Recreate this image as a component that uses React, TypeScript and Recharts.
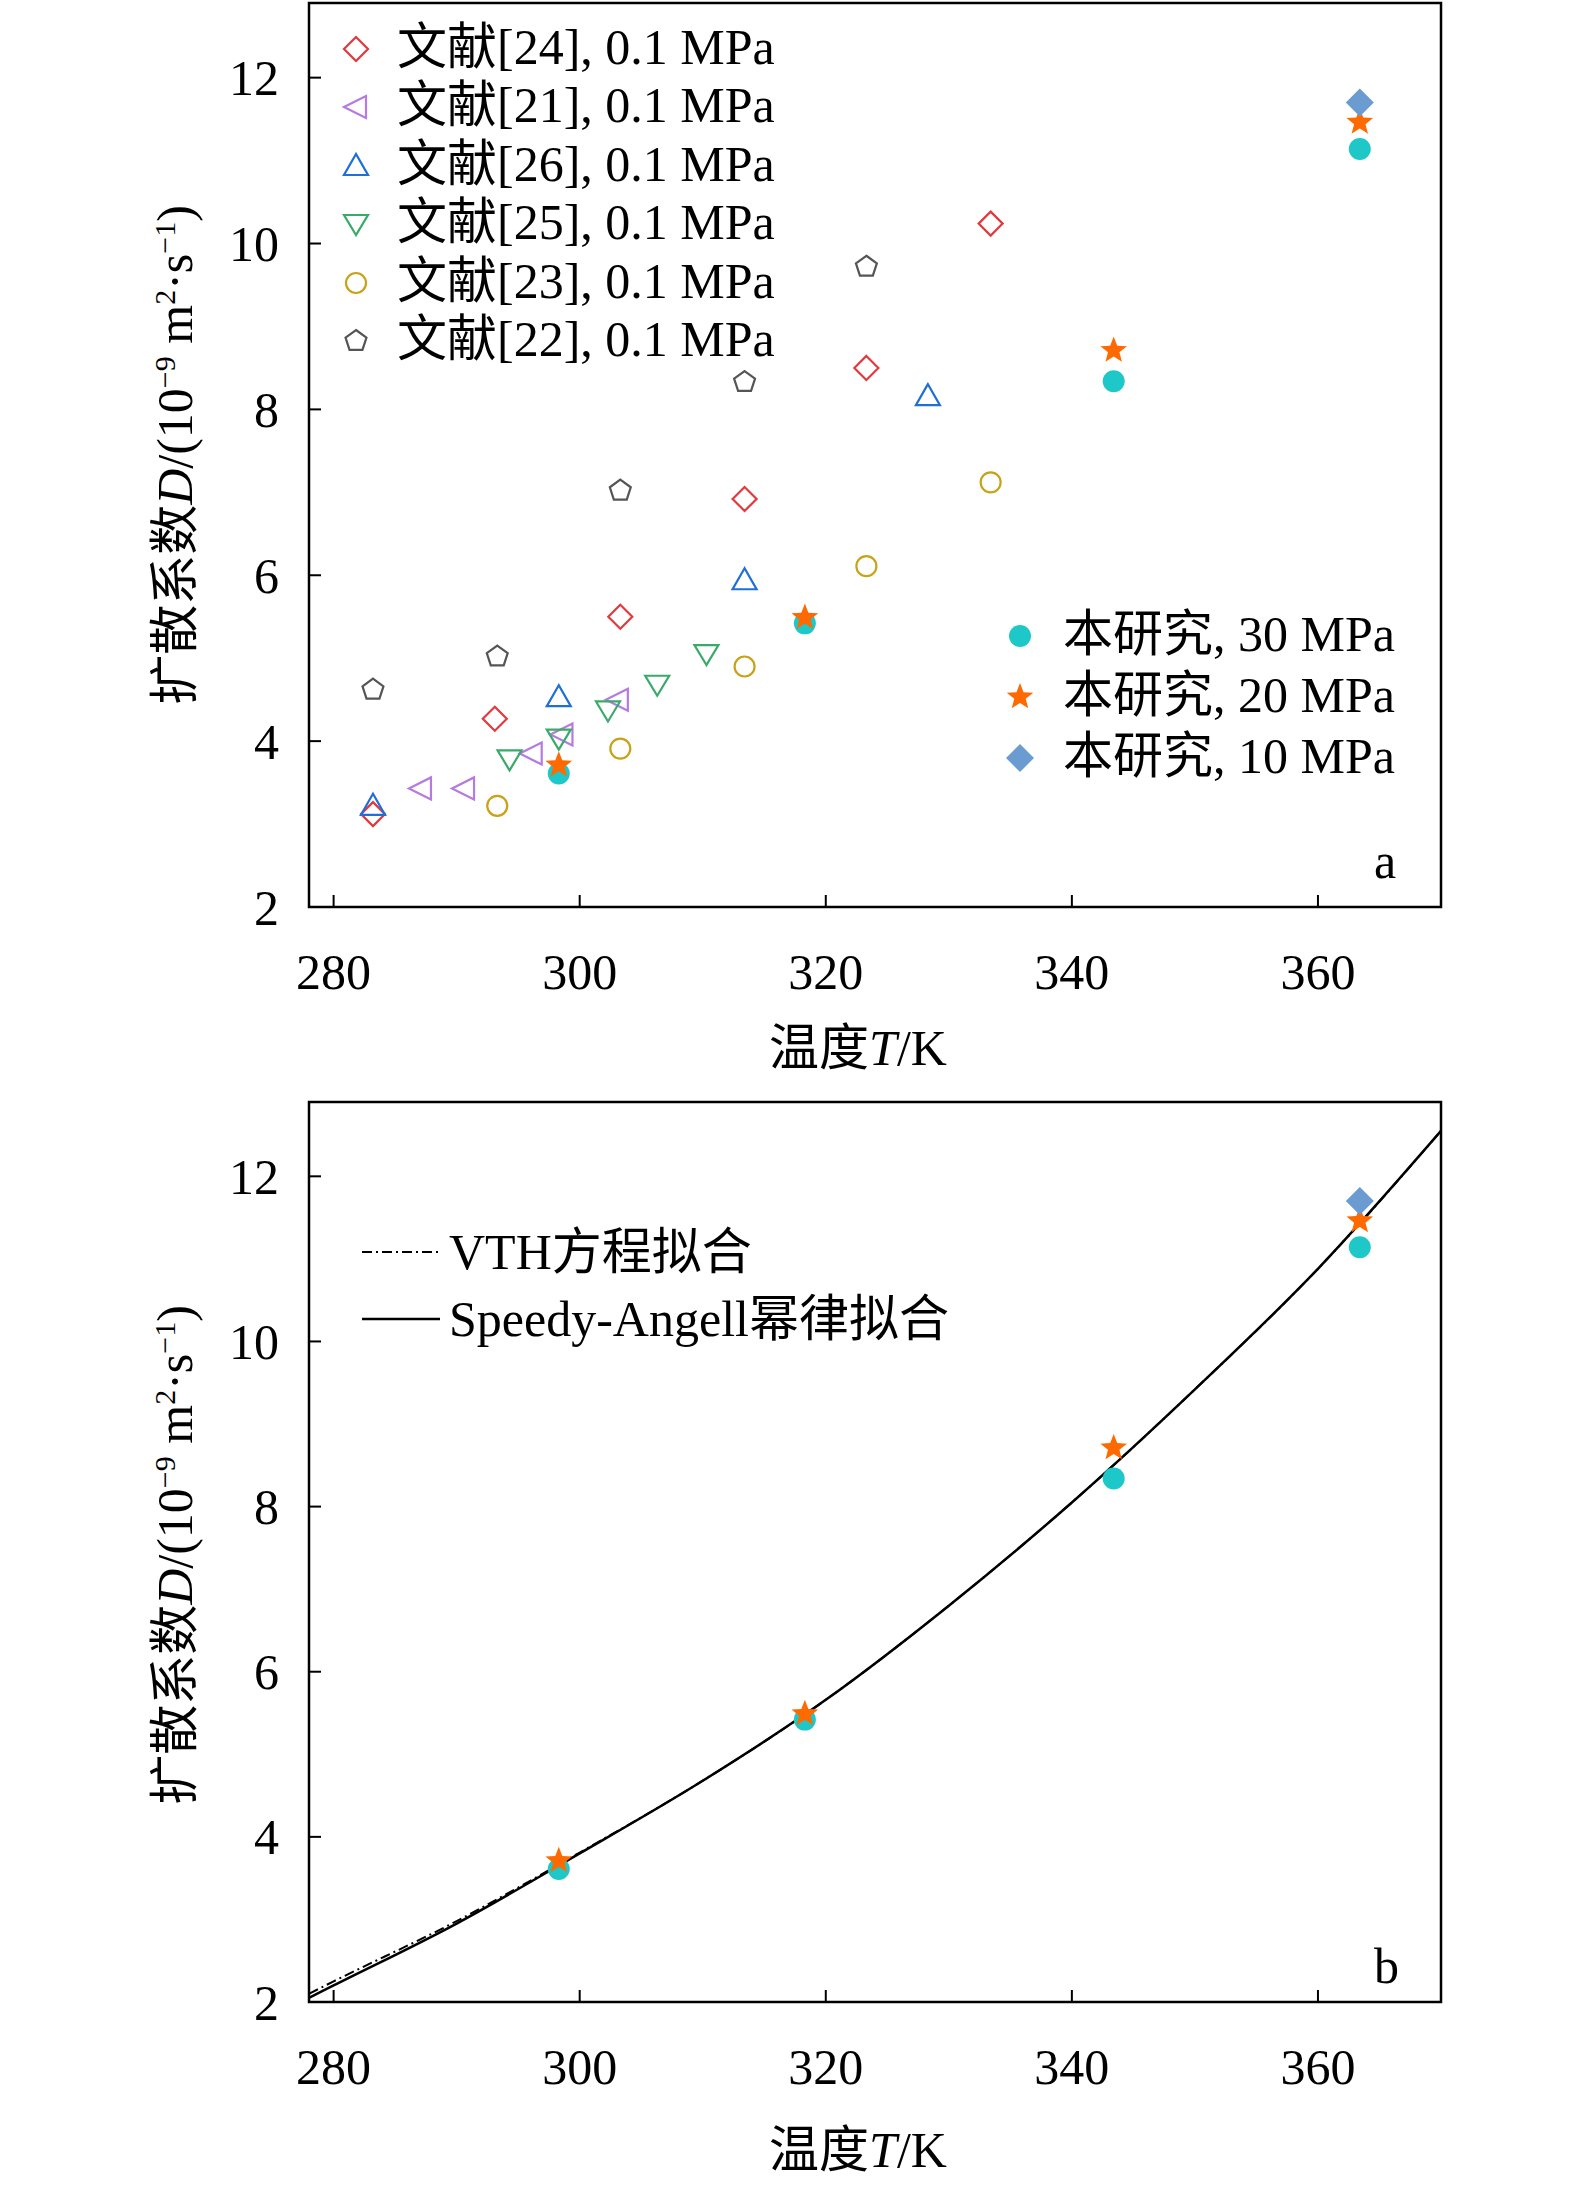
import React from 'react'
import { ComposedChart, Scatter, Line, XAxis, YAxis, ReferenceArea } from 'recharts'

const ref24 = [{ x: 283.2, y: 3.12 }, { x: 293.1, y: 4.27 }, { x: 303.3, y: 5.5 }, { x: 313.4, y: 6.92 }, { x: 323.3, y: 8.5 }, { x: 333.4, y: 10.24 }]
const ref21 = [{ x: 287.1, y: 3.43 }, { x: 290.6, y: 3.43 }, { x: 296.1, y: 3.85 }, { x: 298.6, y: 4.08 }, { x: 303.1, y: 4.5 }]
const ref26 = [{ x: 283.2, y: 3.22 }, { x: 298.3, y: 4.53 }, { x: 313.4, y: 5.94 }, { x: 328.3, y: 8.16 }]
const ref25 = [{ x: 294.3, y: 3.78 }, { x: 298.3, y: 4.03 }, { x: 302.3, y: 4.37 }, { x: 306.3, y: 4.68 }, { x: 310.3, y: 5.05 }]
const ref23 = [{ x: 293.3, y: 3.22 }, { x: 303.3, y: 3.91 }, { x: 313.4, y: 4.9 }, { x: 323.3, y: 6.11 }, { x: 333.4, y: 7.12 }]
const ref22 = [{ x: 283.2, y: 4.62 }, { x: 293.3, y: 5.02 }, { x: 303.3, y: 7.02 }, { x: 313.4, y: 8.33 }, { x: 323.3, y: 9.72 }]
const mpa30 = [{ x: 298.3, y: 3.61 }, { x: 318.3, y: 5.42 }, { x: 343.4, y: 8.34 }, { x: 363.4, y: 11.14 }]
const mpa20 = [{ x: 298.3, y: 3.71 }, { x: 318.3, y: 5.49 }, { x: 343.4, y: 8.71 }, { x: 363.4, y: 11.46 }]
const mpa10 = [{ x: 363.4, y: 11.7 }]
const fitSA = [
  { x: 278, y: 2.05 }, { x: 280, y: 2.2 }, { x: 290, y: 2.95 }, { x: 300, y: 3.8 }, { x: 310, y: 4.68 },
  { x: 320, y: 5.66 }, { x: 330, y: 6.8 }, { x: 340, y: 8.05 }, { x: 350, y: 9.42 }, { x: 360, y: 10.88 }, { x: 370, y: 12.55 },
]
const fitVTH = [
  { x: 278, y: 2.1 }, { x: 280, y: 2.25 }, { x: 290, y: 2.98 }, { x: 300, y: 3.81 }, { x: 310, y: 4.68 },
  { x: 320, y: 5.66 }, { x: 330, y: 6.8 }, { x: 340, y: 8.05 }, { x: 350, y: 9.42 }, { x: 360, y: 10.88 }, { x: 370, y: 12.55 },
]
const xTicks = [280, 300, 320, 340, 360]
const yTicks = [2, 4, 6, 8, 10, 12]

const FONT = '"Liberation Serif", "Noto Sans CJK SC", serif'

type Kind = 'diamond' | 'left' | 'up' | 'down' | 'circle' | 'pent' | 'dot' | 'star' | 'fdiamond'

const Marker = ({ kind, cx, cy, color }: { kind: Kind; cx: number; cy: number; color: string }) => {
  const o = { fill: 'none', stroke: color, strokeWidth: 2.2 }
  const pts = (a: number[][]) => a.map(p => `${cx + p[0]},${cy + p[1]}`).join(' ')
  switch (kind) {
    case 'diamond': return <polygon points={pts([[0, -12], [12, 0], [0, 12], [-12, 0]])} {...o} />
    case 'left': return <polygon points={pts([[-12, 0], [10, -11], [10, 11]])} {...o} />
    case 'up': return <polygon points={pts([[0, -12], [-12, 9], [12, 9]])} {...o} />
    case 'down': return <polygon points={pts([[0, 11], [-12, -9], [12, -9]])} {...o} />
    case 'circle': return <circle cx={cx} cy={cy} r={10} {...o} />
    case 'pent': {
      const a = [0, 1, 2, 3, 4].map(i => {
        const t = -Math.PI / 2 + (i * 2 * Math.PI) / 5
        return [11 * Math.cos(t), 11 * Math.sin(t)]
      })
      return <polygon points={pts(a)} {...o} />
    }
    case 'dot': return <circle cx={cx} cy={cy} r={11} fill={color} />
    case 'star': {
      const a = Array.from({ length: 10 }, (_, i) => {
        const r = i % 2 ? 6 : 14
        const t = -Math.PI / 2 + (i * Math.PI) / 5
        return [r * Math.cos(t), r * Math.sin(t)]
      })
      return <polygon points={pts(a)} fill={color} />
    }
    case 'fdiamond': return <polygon points={pts([[0, -14], [14, 0], [0, 14], [-14, 0]])} fill={color} />
  }
  return null
}

const series: { name: string; data: { x: number; y: number }[]; kind: Kind; color: string }[] = [
  { name: '文献[24], 0.1 MPa', data: ref24, kind: 'diamond', color: '#e0393e' },
  { name: '文献[21], 0.1 MPa', data: ref21, kind: 'left', color: '#b57be0' },
  { name: '文献[26], 0.1 MPa', data: ref26, kind: 'up', color: '#1f6fd6' },
  { name: '文献[25], 0.1 MPa', data: ref25, kind: 'down', color: '#3aaa6a' },
  { name: '文献[23], 0.1 MPa', data: ref23, kind: 'circle', color: '#c9a21a' },
  { name: '文献[22], 0.1 MPa', data: ref22, kind: 'pent', color: '#555555' },
]
const ours: typeof series = [
  { name: '本研究, 30 MPa', data: mpa30, kind: 'dot', color: '#1ec8c8' },
  { name: '本研究, 20 MPa', data: mpa20, kind: 'star', color: '#ff6a00' },
  { name: '本研究, 10 MPa', data: mpa10, kind: 'fdiamond', color: '#6a9bd1' },
]

const XTick = (p: any) => (
  <g>
    <line x1={p.x} y1={p.y} x2={p.x} y2={p.y - 12} stroke="#000" strokeWidth={2} />
    <text x={p.x} y={p.y + 82} textAnchor="middle" fontSize={50} fontFamily={FONT} fill="#000">{p.payload.value}</text>
  </g>
)
const YTick = (p: any) => (
  <g>
    <line x1={p.x} y1={p.y} x2={p.x + 12} y2={p.y} stroke="#000" strokeWidth={2} />
    <text x={p.x - 30} y={p.y} dy="0.35em" textAnchor="end" fontSize={50} fontFamily={FONT} fill="#000">{p.payload.value}</text>
  </g>
)

const Panel = ({ b }: { b: boolean }) => (
  <ComposedChart width={1575} height={1100} margin={{ top: b ? 7 : 3, left: 229, right: 134, bottom: 133 }}>
    <XAxis type="number" dataKey="x" domain={[278, 370]} ticks={xTicks} tick={<XTick />} tickLine={false} tickSize={0} tickMargin={0}
      axisLine={{ stroke: '#000', strokeWidth: 2 }} height={60} allowDataOverflow />
    <YAxis type="number" dataKey="y" domain={[2, 12.9]} ticks={yTicks} tick={<YTick />} tickLine={false} tickSize={0} tickMargin={0}
      axisLine={{ stroke: '#000', strokeWidth: 2 }} width={80} allowDataOverflow />
    <ReferenceArea x1={278} x2={370} y1={2} y2={12.9} fill="none" stroke="#000" strokeWidth={2.5} ifOverflow="visible" />
    {!b && series.map(s => (
      <Scatter key={s.name} data={s.data} isAnimationActive={false}
        shape={(p: any) => <Marker kind={s.kind} cx={p.cx} cy={p.cy} color={s.color} />} />
    ))}
    {b && <Line data={fitVTH} dataKey="y" type="monotone" dot={false} stroke="#000" strokeWidth={2} strokeDasharray="10 4 2 4" isAnimationActive={false} />}
    {b && <Line data={fitSA} dataKey="y" type="monotone" dot={false} stroke="#000" strokeWidth={2.5} isAnimationActive={false} />}
    {ours.map(s => (
      <Scatter key={s.name} data={s.data} isAnimationActive={false}
        shape={(p: any) => <Marker kind={s.kind} cx={p.cx} cy={p.cy} color={s.color} />} />
    ))}
  </ComposedChart>
)

const txt: React.CSSProperties = { position: 'absolute', fontFamily: FONT, fontSize: 50, color: '#000', whiteSpace: 'nowrap', lineHeight: 1 }

const LegendRow = ({ s, mx, tx, y }: { s: (typeof series)[0]; mx: number; tx: number; y: number }) => (
  <>
    <svg style={{ position: 'absolute', left: mx - 20, top: y - 20 }} width={40} height={40}>
      <Marker kind={s.kind} cx={20} cy={20} color={s.color} />
    </svg>
    <div style={{ ...txt, left: tx, top: y - 27 }}>{s.name}</div>
  </>
)

const YLabel = ({ top }: { top: number }) => (
  <div style={{ ...txt, left: 175, top, transform: 'translate(-50%, -50%) rotate(-90deg)' }}>
    扩散系数<i>D</i>/(10<sup style={{ fontSize: 30 }}>−9</sup> m<sup style={{ fontSize: 30 }}>2</sup>·s<sup style={{ fontSize: 30 }}>−1</sup>)
  </div>
)
const XLabel = ({ top }: { top: number }) => (
  <div style={{ ...txt, left: 858, top, transform: 'translate(-50%, -50%)' }}>温度<i>T</i>/K</div>
)

export default function App() {
  return (
    <div style={{ position: 'absolute', left: 0, top: 0, width: 1575, height: 2195, background: '#fff' }}>
      <div style={{ position: 'absolute', left: 0, top: 0 }}><Panel b={false} /></div>
      <div style={{ position: 'absolute', left: 0, top: 1095 }}><Panel b={true} /></div>
      {series.map((s, i) => <LegendRow key={s.name} s={s} mx={356} tx={397} y={49 + i * 58.4} />)}
      {ours.map((s, i) => <LegendRow key={s.name} s={s} mx={1020} tx={1063} y={636 + i * 61} />)}
      <svg style={{ position: 'absolute', left: 360, top: 1230 }} width={82} height={110}>
        <line x1={2} y1={22} x2={80} y2={22} stroke="#000" strokeWidth={2} strokeDasharray="10 4 2 4" />
        <line x1={2} y1={89} x2={80} y2={89} stroke="#000" strokeWidth={2.5} />
      </svg>
      <div style={{ ...txt, left: 449, top: 1227 }}>VTH方程拟合</div>
      <div style={{ ...txt, left: 449, top: 1294 }}>Speedy-Angell幂律拟合</div>
      <div style={{ ...txt, left: 1374, top: 836 }}>a</div>
      <div style={{ ...txt, left: 1374, top: 1941 }}>b</div>
      <YLabel top={455} />
      <YLabel top={1555} />
      <XLabel top={1048} />
      <XLabel top={2150} />
    </div>
  )
}
